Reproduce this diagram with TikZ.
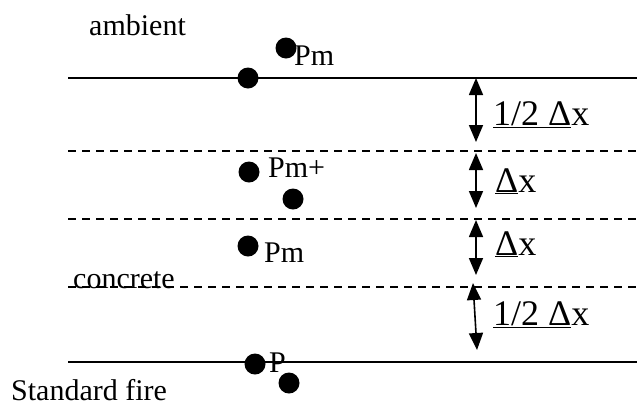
\documentclass[tikz,border=0pt]{standalone}
\usepackage{fontspec}
\setmainfont{Liberation Serif}
\usetikzlibrary{arrows.meta}
\tikzset{
  solidline/.style={line width=2pt},
  dashline/.style={line width=1.6pt, dash pattern=on 8pt off 6pt},
  dimarrow/.style={line width=1.6pt, {Triangle[length=17pt,width=14pt]}-{Triangle[length=17pt,width=14pt]}},
  dot/.style={circle, fill=black, inner sep=0pt, minimum size=21pt},
  lbl/.style={anchor=base west, inner sep=0pt, font=\fontsize{30}{36}\selectfont},
  dimlbl/.style={anchor=base west, inner sep=0pt, font=\fontsize{36}{42}\selectfont},
}
\begin{document}
\begin{tikzpicture}[x=1pt,y=-1pt]
\useasboundingbox (0,0) rectangle (637,408);
% layer lines
\coordinate (l1a) at (68,78);  \coordinate (l1b) at (637,78);
\coordinate (l2a) at (68,151); \coordinate (l2b) at (637,151);
\coordinate (l3a) at (68,219); \coordinate (l3b) at (637,219);
\coordinate (l4a) at (68,287); \coordinate (l4b) at (637,287);
\coordinate (l5a) at (68,362); \coordinate (l5b) at (637,362);
\draw[solidline] (l1a) -- (l1b);
\draw[dashline] (l2a) -- (l2b);
\draw[dashline] (l3a) -- (l3b);
\draw[dashline] (l4a) -- (l4b);
\draw[solidline] (l5a) -- (l5b);
% texts
\node[lbl] (amb) at (89,35) {ambient};
\node[lbl] (conc) at (73,288) {concrete};
\node[lbl] (fire) at (11,400) {Standard fire};
% dots
\node[dot] (d1) at (248,78) {};
\node[dot] (d2) at (286,48) {};
\node[dot] (d3) at (249,172) {};
\node[dot] (d4) at (293,199) {};
\node[dot] (d5) at (248,246) {};
\node[dot] (d6) at (255,364) {};
\node[dot] (d7) at (289,383) {};
\node[lbl] (pm1) at (294,65) {Pm};
\node[lbl] (pm2) at (268,177) {Pm+};
\node[lbl] (pm3) at (264,262) {Pm};
\node[lbl] (p) at (269,372) {P};
% dimension arrows
\coordinate (a1t) at (476,78);  \coordinate (a1b) at (476,142);
\coordinate (a2t) at (476,153); \coordinate (a2b) at (476,208);
\coordinate (a3t) at (476,220); \coordinate (a3b) at (476,275);
\coordinate (a4t) at (473,283); \coordinate (a4b) at (477,350);
\draw[dimarrow] (a1t) -- (a1b);
\draw[dimarrow] (a2t) -- (a2b);
\draw[dimarrow] (a3t) -- (a3b);
\draw[dimarrow] (a4t) -- (a4b);
\node[dimlbl] (t1) at (493,125) {\underline{1/2 Δ}x};
\node[dimlbl] (t2) at (495,192) {\underline{Δ}x};
\node[dimlbl] (t3) at (495,255) {\underline{Δ}x};
\node[dimlbl] (t4) at (493,325) {\underline{1/2 Δ}x};
\end{tikzpicture}
\end{document}
